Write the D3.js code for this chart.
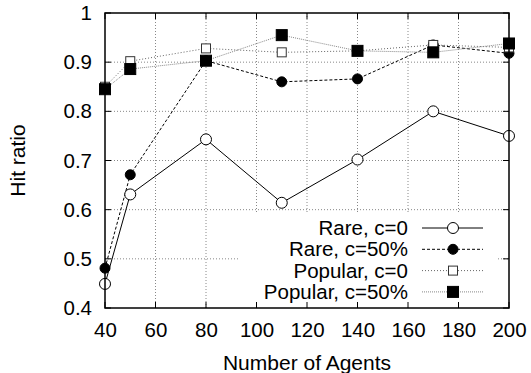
<!DOCTYPE html>
<html>
<head>
<meta charset="utf-8">
<script src="https://cdn.jsdelivr.net/npm/d3@7"></script>
<style>
  body { margin: 0; background: #fff; }
  text { font-family: "Liberation Sans", Arial, sans-serif; fill: #000; }
</style>
</head>
<body>
<script>
var agents = [40, 50, 80, 110, 140, 170, 200];
var rareC0 = [0.449, 0.631, 0.743, 0.614, 0.702, 0.800, 0.750];
var rareC50 = [0.481, 0.671, 0.903, 0.860, 0.866, 0.935, 0.918];
var popularC0 = [0.850, 0.902, 0.928, 0.920, 0.923, 0.935, 0.930];
var popularC50 = [0.845, 0.886, 0.903, 0.955, 0.923, 0.920, 0.938];
var seriesNames = ["Rare, c=0", "Rare, c=50%", "Popular, c=0", "Popular, c=50%"];
var xTicks = [40, 60, 80, 100, 120, 140, 160, 180, 200];
var yTicks = [0.4, 0.5, 0.6, 0.7, 0.8, 0.9, 1];

var styles = [
  { dash: null, color: "#000", marker: "circle", fill: "#fff" },
  { dash: "3,2", color: "#000", marker: "circle", fill: "#000" },
  { dash: "1,2", color: "#666", marker: "square", fill: "#fff" },
  { dash: "1,1", color: "#888", marker: "square", fill: "#000" }
];

main();

function main() {
  setupCanvasSize();
  appendSvg("body");
  setupScales();
  appendGrid();
  appendLines();
  appendLegend();
  appendAxes();
  addLabels();
}

function setupCanvasSize() {
  margin = { top: 13, left: 105, bottom: 65, right: 22 };
  width = 531 - margin.left - margin.right;
  height = 373 - margin.top - margin.bottom;
}

function appendSvg(domElement) {
  svg = d3.select(domElement).append("svg")
    .attr("width", 531)
    .attr("height", 373)
    .append("g")
    .attr("transform", `translate(${margin.left}, ${margin.top})`);
}

function setupScales() {
  x = d3.scaleLinear().domain([40, 200]).range([0, width]);
  y = d3.scaleLinear().domain([0.4, 1]).range([height, 0]);
}

function appendGrid() {
  var grid = svg.append("g").attr("class", "grid");
  grid.selectAll(".gx").data(xTicks.slice(1, -1)).enter().append("line")
    .attr("x1", d => x(d)).attr("x2", d => x(d))
    .attr("y1", 0).attr("y2", height)
    .attr("stroke", "#888").attr("stroke-width", 1)
    .attr("stroke-dasharray", "1,2");
  grid.selectAll(".gy").data(yTicks.slice(1, -1)).enter().append("line")
    .attr("x1", 0).attr("x2", width)
    .attr("y1", d => y(d)).attr("y2", d => y(d))
    .attr("stroke", "#888").attr("stroke-width", 1)
    .attr("stroke-dasharray", "1,2");
}

function drawMarker(g, style, cx, cy) {
  if (style.marker == "circle") {
    var r = style.fill == "#000" ? 5 : 5.5;
    g.append("circle").attr("cx", cx).attr("cy", cy).attr("r", r)
      .attr("fill", style.fill).attr("stroke", "#000").attr("stroke-width", 1);
  } else {
    var s = style.fill == "#000" ? 11 : 9;
    g.append("rect").attr("x", cx - s / 2).attr("y", cy - s / 2)
      .attr("width", s).attr("height", s)
      .attr("fill", style.fill).attr("stroke", style.fill == "#000" ? "#000" : "#333")
      .attr("stroke-width", 1);
  }
}

function appendLines() {
  var all = [rareC0, rareC50, popularC0, popularC50];
  var line = d3.line().x((d, i) => x(agents[i])).y(d => y(d));
  all.forEach(function (vals, k) {
    var st = styles[k];
    svg.append("path").datum(vals)
      .attr("d", line).attr("fill", "none")
      .attr("stroke", st.color).attr("stroke-width", 1)
      .attr("stroke-dasharray", st.dash);
  });
  all.forEach(function (vals, k) {
    var g = svg.append("g");
    vals.forEach(function (v, i) { drawMarker(g, styles[k], x(agents[i]), y(v)); });
  });
}

function appendLegend() {
  var top = 213;
  var lg = svg.append("g").attr("transform", `translate(${240 - margin.left}, ${top - margin.top})`);
  lg.append("rect").attr("x", 0).attr("y", 0)
    .attr("width", 257).attr("height", height - (top - margin.top))
    .attr("fill", "#fff");
  seriesNames.forEach(function (name, k) {
    var yy = 15 + k * 21.3;
    lg.append("text").attr("x", 168).attr("y", yy).attr("dy", "0.35em")
      .attr("text-anchor", "end").style("font-size", "20.5px").text(name);
    lg.append("line").attr("x1", 182).attr("x2", 243)
      .attr("y1", yy).attr("y2", yy)
      .attr("stroke", styles[k].color).attr("stroke-width", 1)
      .attr("stroke-dasharray", styles[k].dash);
    drawMarker(lg, styles[k], 213, yy);
  });
}

function appendAxes() {
  // frame
  svg.append("rect").attr("width", width).attr("height", height)
    .attr("fill", "none").attr("stroke", "#000").attr("stroke-width", 1.5);
  var tk = svg.append("g");
  xTicks.forEach(function (t) {
    tk.append("line").attr("x1", x(t)).attr("x2", x(t)).attr("y1", height).attr("y2", height - 6).attr("stroke", "#000");
    tk.append("line").attr("x1", x(t)).attr("x2", x(t)).attr("y1", 0).attr("y2", 6).attr("stroke", "#000");
  });
  yTicks.forEach(function (t) {
    tk.append("line").attr("x1", 0).attr("x2", 6).attr("y1", y(t)).attr("y2", y(t)).attr("stroke", "#000");
    tk.append("line").attr("x1", width).attr("x2", width - 6).attr("y1", y(t)).attr("y2", y(t)).attr("stroke", "#000");
  });

  svg.append("g").attr("transform", `translate(0, ${height})`)
    .call(d3.axisBottom(x).tickValues(xTicks).tickSize(0).tickPadding(14.5).tickFormat(d3.format("d")))
    .call(g => g.select(".domain").remove())
    .selectAll("text").style("font-size", "20.5px").attr("font-family", null);

  svg.append("g")
    .call(d3.axisLeft(y).tickValues(yTicks).tickSize(0).tickPadding(13).tickFormat(d => d == 1 ? "1" : d3.format(".1f")(d)))
    .call(g => g.select(".domain").remove())
    .selectAll("text").style("font-size", "20.5px").attr("font-family", null);
}

function addLabels() {
  svg.append("text")
    .attr("x", width / 2).attr("y", height + 62)
    .attr("text-anchor", "middle").style("font-size", "21px")
    .text("Number of Agents");
  svg.append("text")
    .attr("transform", `translate(${25 - margin.left}, ${height / 2}) rotate(-90)`)
    .attr("text-anchor", "middle").style("font-size", "21px")
    .text("Hit ratio");
}
</script>
</body>
</html>
